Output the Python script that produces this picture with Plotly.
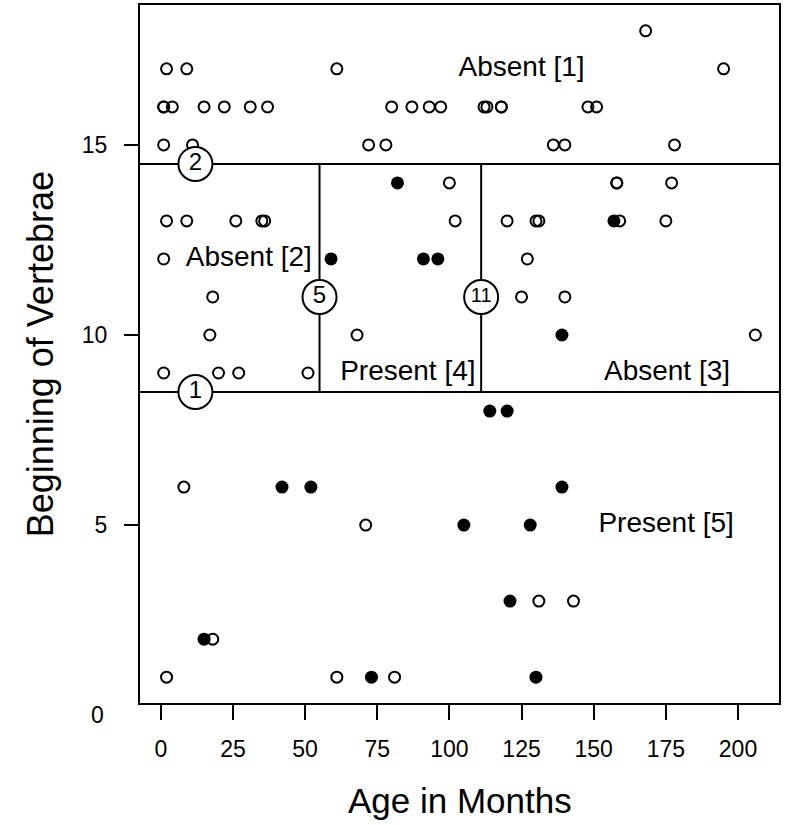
import plotly.graph_objects as go

# Kyphosis data
age = [71, 158, 128, 2, 1, 1, 61, 37, 113, 59, 82, 148, 18, 1, 168, 1, 78, 175, 80, 27,
       22, 105, 96, 131, 15, 9, 8, 100, 4, 151, 31, 125, 130, 112, 140, 93, 1, 52, 20, 91,
       73, 35, 143, 61, 97, 139, 136, 131, 121, 177, 68, 9, 139, 2, 140, 72, 2, 120, 51, 102,
       130, 114, 81, 118, 118, 17, 195, 159, 18, 15, 158, 127, 87, 206, 11, 178, 157, 26, 120, 42, 36]
start = [5, 14, 5, 1, 15, 16, 17, 16, 16, 12, 14, 16, 2, 12, 18, 16, 15, 13, 16, 9,
         16, 5, 12, 3, 2, 13, 6, 14, 16, 16, 16, 11, 13, 16, 11, 16, 9, 6, 9, 12,
         1, 13, 3, 1, 16, 10, 15, 13, 3, 14, 10, 17, 6, 17, 15, 15, 13, 8, 9, 13,
         1, 8, 1, 16, 16, 10, 17, 13, 11, 16, 14, 12, 16, 10, 15, 15, 13, 13, 13, 6, 13]
kyphosis = ["absent", "absent", "present", "absent", "absent", "absent", "absent", "absent", "absent", "present",
            "present", "absent", "absent", "absent", "absent", "absent", "absent", "absent", "absent", "absent",
            "absent", "present", "present", "absent", "present", "absent", "absent", "absent", "absent", "absent",
            "absent", "absent", "absent", "absent", "absent", "absent", "absent", "present", "absent", "present",
            "present", "absent", "absent", "absent", "absent", "present", "absent", "absent", "present", "absent",
            "absent", "absent", "present", "absent", "absent", "absent", "absent", "present", "absent", "absent",
            "present", "present", "absent", "absent", "absent", "absent", "absent", "absent", "absent", "absent",
            "absent", "absent", "absent", "absent", "absent", "absent", "present", "absent", "absent", "present", "absent"]

# Tree partition
start_splits = [14.5, 8.5]
age_splits = [55, 111]
node_x = [12, 12, 55, 111]
node_y = [14.5, 8.5, 11, 11]
node_text = ["2", "1", "5", "11"]
region_x = [125, 30.5, 85.6, 175.4, 175.1]
region_y = [17, 12, 9, 9, 5]
region_text = ["Absent [1]", "Absent [2]", "Present [4]", "Absent [3]", "Present [5]"]

x_ticks = [0, 25, 50, 75, 100, 125, 150, 175, 200]
y_ticks = [5, 10, 15]

xr = [-7.2, 214.2]
yr = [0.32, 18.68]

FONT = "Liberation Sans, Arial, sans-serif"

fig = go.Figure()

# partition lines
for s in start_splits:
    fig.add_trace(go.Scatter(x=xr, y=[s, s], mode="lines", line=dict(color="black", width=2),
                             hoverinfo="skip", showlegend=False))
for a in age_splits:
    fig.add_trace(go.Scatter(x=[a, a], y=[start_splits[1], start_splits[0]], mode="lines",
                             line=dict(color="black", width=2), hoverinfo="skip", showlegend=False))

ab_x = [a for a, k in zip(age, kyphosis) if k == "absent"]
ab_y = [s for s, k in zip(start, kyphosis) if k == "absent"]
pr_x = [a for a, k in zip(age, kyphosis) if k == "present"]
pr_y = [s for s, k in zip(start, kyphosis) if k == "present"]

fig.add_trace(go.Scatter(x=ab_x, y=ab_y, mode="markers", showlegend=False,
                         marker=dict(symbol="circle-open", size=11, color="black", line=dict(width=2))))
fig.add_trace(go.Scatter(x=pr_x, y=pr_y, mode="markers", showlegend=False,
                         marker=dict(symbol="circle", size=13, color="black", line=dict(width=0))))

# node circles
fig.add_trace(go.Scatter(x=node_x, y=node_y, mode="markers+text", text=node_text,
                         textposition="middle center", showlegend=False,
                         textfont=dict(family=FONT, size=[24, 24, 24, 20], color="black"),
                         marker=dict(symbol="circle", size=34, color="white",
                                     line=dict(color="black", width=2))))

# region labels
fig.add_trace(go.Scatter(x=region_x, y=region_y, mode="text", text=region_text,
                         textposition="middle center", showlegend=False,
                         textfont=dict(family=FONT, size=28, color="black")))

zero_paper = (0 - yr[0]) / (yr[1] - yr[0])

fig.update_layout(
    width=789, height=825,
    margin=dict(l=140, r=10, t=5, b=122, autoexpand=False),
    paper_bgcolor="white", plot_bgcolor="white",
    font=dict(family=FONT, color="black"),
    xaxis=dict(range=xr, tickvals=x_ticks, ticks="outside", ticklen=15, tickwidth=2,
               tickcolor="black", showgrid=False, zeroline=False, showline=True,
               linecolor="black", linewidth=2, mirror=True, automargin=False,
               tickfont=dict(size=23, family=FONT), ticklabelstandoff=9),
    yaxis=dict(range=yr, tickvals=y_ticks, ticks="outside", ticklen=14, tickwidth=2,
               tickcolor="black", showgrid=False, zeroline=False, showline=True,
               linecolor="black", linewidth=2, mirror=True, automargin=False,
               tickfont=dict(size=23, family=FONT), ticklabelstandoff=12),
    annotations=[
        dict(text="0", xref="paper", yref="paper", x=-0.053, y=zero_paper,
             xanchor="right", yanchor="middle", showarrow=False,
             font=dict(size=23, family=FONT, color="black")),
        dict(text="Age in Months", xref="paper", yref="paper", x=0.5, y=-0.139,
             xanchor="center", yanchor="middle", showarrow=False,
             font=dict(size=35, family=FONT, color="black")),
        dict(text="Beginning of Vertebrae", xref="paper", yref="paper", x=-0.156, y=0.5,
             xanchor="center", yanchor="middle", textangle=-90, showarrow=False,
             font=dict(size=36, family=FONT, color="black")),
    ],
)

fig.write_html("out.html", config={"responsive": False, "displayModeBar": False},
               post_script="document.body.style.margin='0';document.body.style.padding='0';")
